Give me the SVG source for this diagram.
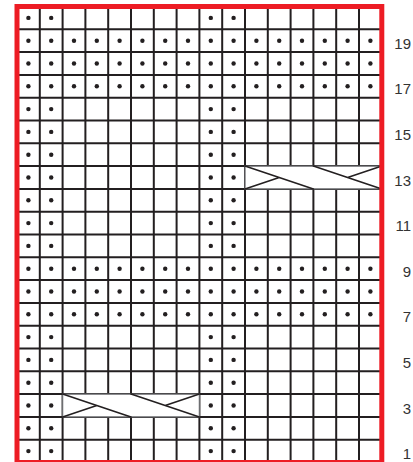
<svg xmlns="http://www.w3.org/2000/svg" xmlns:xlink="http://www.w3.org/1999/xlink" width="413" height="462" viewBox="0 0 413 462">
<style>
.g{stroke:#231f20;stroke-width:2;fill:none}
.d{fill:#231f20}
.cb{fill:#fff;stroke:#6d6e71;stroke-width:1.3}
.cl{stroke:#231f20;stroke-width:1.6;fill:none;stroke-linecap:round}
.lb{font-family:"Liberation Sans",Arial,sans-serif;font-size:15px;fill:#333;text-anchor:end}
.rb{fill:none;stroke:#ed1c24;stroke-width:5}
</style>
<defs>
<g id="pr">
<circle class="d" cx="28.4" cy="0" r="2.2"/><circle class="d" cx="51.2" cy="0" r="2.2"/>
<circle class="d" cx="210.8" cy="0" r="2.2"/><circle class="d" cx="233.6" cy="0" r="2.2"/>
</g>
<g id="fr">
<use xlink:href="#pr"/>
<circle class="d" cx="74" cy="0" r="2.2"/><circle class="d" cx="96.8" cy="0" r="2.2"/>
<circle class="d" cx="119.6" cy="0" r="2.2"/><circle class="d" cx="142.4" cy="0" r="2.2"/>
<circle class="d" cx="165.2" cy="0" r="2.2"/><circle class="d" cx="188" cy="0" r="2.2"/>
<circle class="d" cx="256.4" cy="0" r="2.2"/><circle class="d" cx="279.2" cy="0" r="2.2"/>
<circle class="d" cx="302" cy="0" r="2.2"/><circle class="d" cx="324.8" cy="0" r="2.2"/>
<circle class="d" cx="347.6" cy="0" r="2.2"/><circle class="d" cx="370.4" cy="0" r="2.2"/>
</g>
</defs>
<rect width="413" height="462" fill="#fff"/>
<g id="grid" class="g">
<path d="M39.8 6.5V462.5M62.6 6.5V462.5M85.4 6.5V462.5M108.2 6.5V462.5M131 6.5V462.5M153.8 6.5V462.5M176.6 6.5V462.5M199.4 6.5V462.5M222.2 6.5V462.5M245 6.5V462.5M267.8 6.5V462.5M290.6 6.5V462.5M313.4 6.5V462.5M336.2 6.5V462.5M359 6.5V462.5"/>
<path d="M17 29.3H381.8M17 52.1H381.8M17 74.9H381.8M17 97.7H381.8M17 120.5H381.8M17 143.3H381.8M17 166.1H381.8M17 188.9H381.8M17 211.7H381.8M17 234.5H381.8M17 257.3H381.8M17 280.1H381.8M17 302.9H381.8M17 325.7H381.8M17 348.5H381.8M17 371.3H381.8M17 394.1H381.8M17 416.9H381.8M17 439.7H381.8"/>
</g>
<g id="dots">
<use xlink:href="#pr" y="17.9"/>
<use xlink:href="#fr" y="40.7"/>
<use xlink:href="#fr" y="63.5"/>
<use xlink:href="#fr" y="86.3"/>
<use xlink:href="#pr" y="109.1"/>
<use xlink:href="#pr" y="131.9"/>
<use xlink:href="#pr" y="154.7"/>
<use xlink:href="#pr" y="177.5"/>
<use xlink:href="#pr" y="200.3"/>
<use xlink:href="#pr" y="223.1"/>
<use xlink:href="#pr" y="245.9"/>
<use xlink:href="#fr" y="268.7"/>
<use xlink:href="#fr" y="291.5"/>
<use xlink:href="#fr" y="314.3"/>
<use xlink:href="#pr" y="337.1"/>
<use xlink:href="#pr" y="359.9"/>
<use xlink:href="#pr" y="382.7"/>
<use xlink:href="#pr" y="405.5"/>
<use xlink:href="#pr" y="428.3"/>
<use xlink:href="#pr" y="451.1"/>
</g>
<g id="cable-row13">
<rect class="cb" x="245" y="166.1" width="136.8" height="22.8"/>
<path class="cl" d="M245 166.1L313.4 188.9M245 188.9L279.2 177.5M313.4 166.1L381.8 188.9M347.6 177.5L381.8 166.1"/>
</g>
<g id="cable-row3">
<rect class="cb" x="62.6" y="394.1" width="136.8" height="22.8"/>
<path class="cl" d="M62.6 394.1L131 416.9M62.6 416.9L96.8 405.5M131 394.1L199.4 416.9M165.2 405.5L199.4 394.1"/>
</g>
<rect id="border" class="rb" x="17" y="6.5" width="364.8" height="456"/>
<g id="labels" class="lb">
<text x="411" y="48.7">19</text>
<text x="411" y="94.3">17</text>
<text x="411" y="139.9">15</text>
<text x="411" y="185.5">13</text>
<text x="411" y="231.1">11</text>
<text x="411" y="276.7">9</text>
<text x="411" y="322.3">7</text>
<text x="411" y="367.9">5</text>
<text x="411" y="413.5">3</text>
<text x="411" y="459.1">1</text>
</g>
</svg>
